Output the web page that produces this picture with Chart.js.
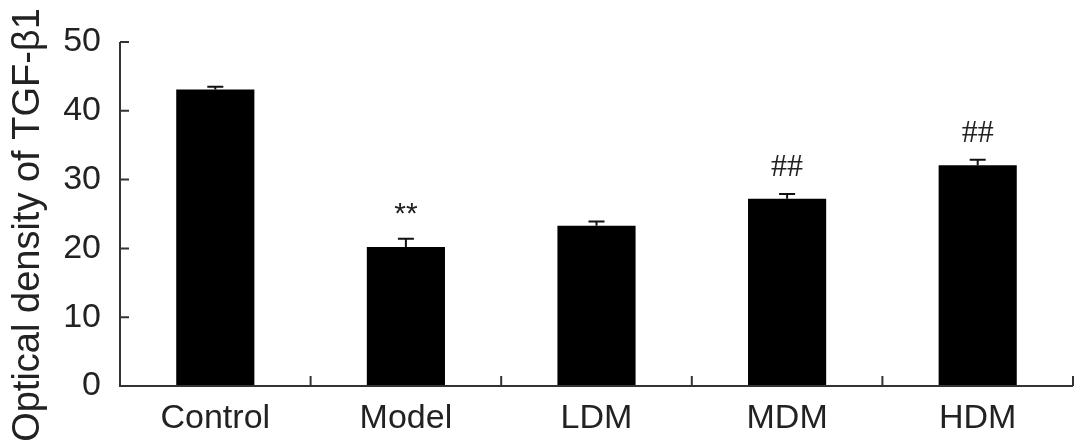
<!DOCTYPE html>
<html>
<head>
<meta charset="utf-8">
<script src="https://cdn.jsdelivr.net/npm/chart.js@4/dist/chart.umd.min.js"></script>
<style>
  html, body { margin: 0; padding: 0; background: #fff; }
  #wrap { width: 1087px; height: 448px; position: relative; }
</style>
</head>
<body>
<div id="wrap"><canvas id="chart"></canvas></div>
<script>
// Data
const groups = ['Control', 'Model', 'LDM', 'MDM', 'HDM'];
const meanValues = [43.1, 20.2, 23.3, 27.2, 32.1];
const errorValues = [0.4, 1.2, 0.6, 0.7, 0.8];
const marks = ['', '**', '', '##', '##'];
const yTicks = [0, 10, 20, 30, 40, 50];
const yTitle = 'Optical density of TGF-β1';

const axisColor = '#333';
const textColor = '#222';
const sansFont = '"Liberation Sans", Arial, sans-serif';

// Axes with ticks pointing inward, drawn from the scales
const innerTicks = {
    id: 'innerTicks',
    afterDraw(chart) {
        const ctx = chart.ctx;
        const x = chart.scales.x;
        const y = chart.scales.y;
        ctx.save();
        ctx.strokeStyle = axisColor;
        ctx.lineWidth = 2;
        ctx.beginPath();
        // axis lines
        ctx.moveTo(x.left, y.getPixelForValue(yTicks[yTicks.length - 1]));
        ctx.lineTo(x.left, y.bottom);
        ctx.lineTo(x.right, y.bottom);
        // y ticks
        yTicks.forEach(v => {
            const py = y.getPixelForValue(v);
            ctx.moveTo(x.left, py);
            ctx.lineTo(x.left + 9, py);
        });
        // x ticks between categories and at the right end
        for (let i = 0; i < groups.length; i++) {
            const px = i < groups.length - 1
                ? (x.getPixelForValue(i) + x.getPixelForValue(i + 1)) / 2
                : x.right;
            ctx.moveTo(px, y.bottom);
            ctx.lineTo(px, y.bottom - 10);
        }
        ctx.stroke();

        // y axis title, a little below the scale centre like the reference
        ctx.translate(29, (y.top + y.bottom) / 2 + 11);
        ctx.rotate(-Math.PI / 2);
        ctx.fillStyle = textColor;
        ctx.font = '38px ' + sansFont;
        ctx.textAlign = 'center';
        ctx.textBaseline = 'middle';
        ctx.fillText(yTitle, 0, 0);
        ctx.restore();
    }
};

// Error bars and significance marks
const errorBars = {
    id: 'errorBars',
    afterDatasetsDraw(chart) {
        const ctx = chart.ctx;
        const y = chart.scales.y;
        const meta = chart.getDatasetMeta(0);
        ctx.save();
        ctx.strokeStyle = '#111';
        ctx.lineWidth = 2;
        meta.data.forEach((bar, i) => {
            const top = y.getPixelForValue(meanValues[i] + errorValues[i]);
            const base = y.getPixelForValue(meanValues[i]);
            ctx.beginPath();
            ctx.moveTo(bar.x, base);
            ctx.lineTo(bar.x, top);
            ctx.moveTo(bar.x - 8, top);
            ctx.lineTo(bar.x + 8, top);
            ctx.stroke();

            if (marks[i]) {
                ctx.fillStyle = textColor;
                ctx.textAlign = 'center';
                ctx.textBaseline = 'alphabetic';
                if (marks[i] === '**') {
                    ctx.font = '30px ' + sansFont;
                    ctx.fillText(marks[i], bar.x, top - 16);
                } else {
                    ctx.font = '32px "Liberation Serif", "Times New Roman", serif';
                    ctx.fillText(marks[i], bar.x, top - 18);
                }
            }
        });
        ctx.restore();
    }
};

new Chart(document.getElementById('chart'), {
    type: 'bar',
    data: {
        labels: groups,
        datasets: [{
            data: meanValues,
            backgroundColor: '#000',
            borderColor: '#000',
            borderWidth: 0,
            barPercentage: 0.82,
            categoryPercentage: 0.5
        }]
    },
    options: {
        responsive: true,
        maintainAspectRatio: false,
        animation: false,
        layout: { padding: { left: 0, right: 14, top: 42, bottom: 0 } },
        plugins: {
            legend: { display: false },
            tooltip: { enabled: false }
        },
        scales: {
            x: {
                grid: { display: false, drawTicks: false },
                border: { display: false },
                ticks: {
                    color: textColor,
                    padding: 12,
                    font: { family: sansFont, size: 34 }
                },
                afterFit(scale) { scale.height = 62; }
            },
            y: {
                min: 0,
                max: 50,
                afterBuildTicks(scale) { scale.ticks = yTicks.map(v => ({ value: v })); },
                grid: { display: false, drawTicks: false },
                border: { display: false },
                ticks: {
                    color: textColor,
                    padding: 19,
                    font: { family: sansFont, size: 34 }
                },
                afterFit(scale) { scale.width = 120; }
            }
        }
    },
    plugins: [innerTicks, errorBars]
});
</script>
</body>
</html>
